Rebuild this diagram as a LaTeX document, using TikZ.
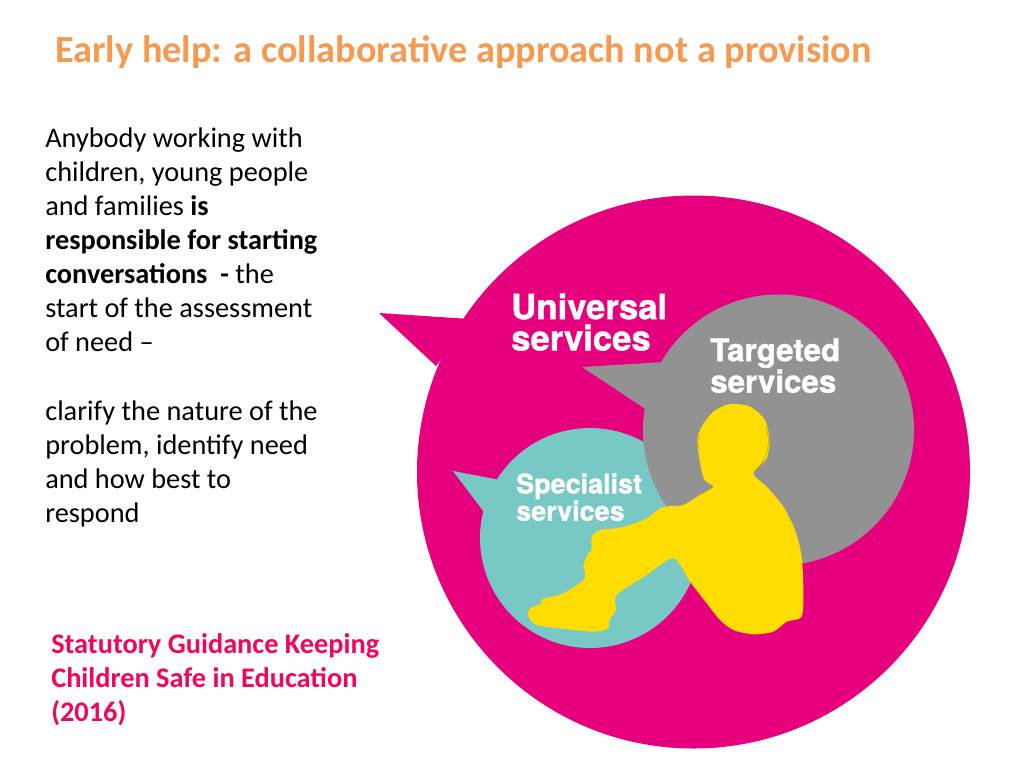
\documentclass[tikz,border=0pt]{standalone}
\usepackage{fontspec}
\setmainfont{Carlito}
\newfontfamily\badge{TeX Gyre Heros}[UprightFont=* Bold,BoldFont=* Bold,FakeBold=1.2]
\definecolor{pinkc}{HTML}{E6007E}
\definecolor{grayc}{HTML}{929292}
\definecolor{tealc}{HTML}{78C8C6}
\definecolor{yellowc}{HTML}{FFDD00}
\definecolor{titlec}{HTML}{F79A50}
\definecolor{guidec}{HTML}{F0055F}
\tikzset{
 bodytext/.style={anchor=north west,inner sep=0pt,align=left,text=black,font=\fontsize{21.25}{25.5}\selectfont},
 guidetext/.style={anchor=north west,inner sep=0pt,align=left,text=guidec,font=\fontsize{21.25}{25.5}\selectfont\bfseries},
 badgetext/.style={anchor=north west,inner sep=0pt,align=left,text=white},
}
\begin{document}
\begin{tikzpicture}[x=0.75pt,y=-0.75pt]
\useasboundingbox (0,0) rectangle (1024,768);
\fill[white] (0,0) rectangle (1024,768);
% Universal
\fill[pinkc] (693.5,472) circle (276.5);
\fill[pinkc] (379,313) -- (470,319) -- (436,366) -- cycle;
% Specialist
\fill[tealc] (453,471) -- (500,480) -- (484,512) -- cycle;
\fill[tealc] (590,538) circle (110);
% Targeted
\fill[grayc] (582,367) -- (665,362) -- (650,412) -- cycle;
\fill[grayc] (778.5,430) circle (135.5);
% Child
\begin{scope}[shift={(500,390)},x=0.25pt,y=-0.25pt]
\fill[yellowc] plot[smooth cycle,tension=0.45] coordinates {
(640,290) (612,268) (598,205) (592,150) (605,110) (640,65) (690,42) (750,50) (795,90) (808,150) (800,205) (760,250)
(800,290) (850,350) (885,420) (905,500) (910,600) (905,680) (860,695) (820,725) (760,733) (700,720) (660,690)
(620,640) (570,575) (520,505) (440,555) (350,615) (348,660) (328,690) (325,715) (280,725) (180,715) (110,705)
(85,680) (90,655) (125,640) (125,628) (190,610) (250,570) (255,545) (250,525) (265,490) (275,480) (275,440)
(300,420) (345,415) (390,405) (440,385) (480,355) (510,348) (550,345) (600,315)};
\draw[yellowc!75!black,line width=0.4pt] (600,140) .. controls (590,155) and (592,170) .. (600,180);
\draw[yellowc!75!black,line width=0.4pt] (798,110) .. controls (812,150) and (808,205) .. (762,245);
\end{scope}
% Labels
\node[font=\fontsize{28.7}{32}\selectfont\bfseries,text=titlec,anchor=base west,inner sep=0pt] (title) at (55,62) {Early help: a collaborative approach not a provision};
\node[bodytext] (intro) at (45,128) {Anybody working with\\children, young people\\and families \textbf{is}\\\textbf{responsible for starting}\\\textbf{conversations\ \ -} the\\start of the assessment\\of need –};
\node[bodytext] (clarify) at (45,401) {clarify the nature of the\\problem, identify need\\and how best to\\respond};
\node[guidetext] (guide) at (51,633) {Statutory Guidance Keeping\\Children Safe in Education\\(2016)};
\node[badgetext,font=\badge\fontsize{26}{23.5}\selectfont] (universal) at (511,293) {Universal\\services};
\node[badgetext,font=\badge\fontsize{23.5}{20.5}\selectfont] (targeted) at (710,338) {Targeted\\services};
\node[badgetext,font=\badge\fontsize{20.2}{17.5}\selectfont] (specialist) at (516,473) {Specialist\\services};
\end{tikzpicture}
\end{document}
